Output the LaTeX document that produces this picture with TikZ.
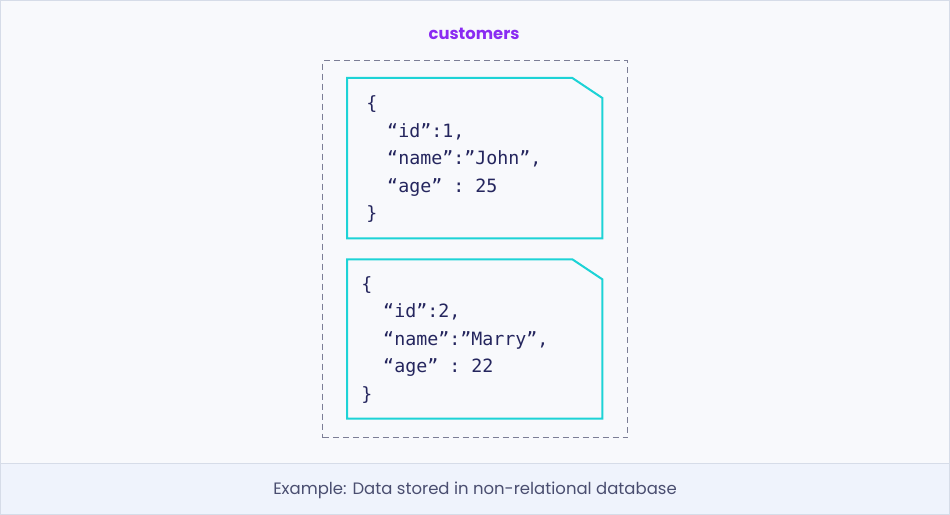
\documentclass[tikz,border=0pt]{standalone}
\usepackage{fontspec}
\setmainfont{Poppins}
\setmonofont{DejaVu Sans Mono}
\usetikzlibrary{positioning}

\definecolor{pagebg}{HTML}{F8F9FC}
\definecolor{bandbg}{HTML}{EFF3FC}
\definecolor{frameline}{HTML}{D6DCE8}
\definecolor{titlepurple}{HTML}{8A2BF2}
\definecolor{docline}{HTML}{1DD3D6}
\definecolor{dashgray}{HTML}{7C7E96}
\definecolor{ink}{HTML}{25265E}
\definecolor{captionink}{HTML}{4A4E70}

\begin{document}
\begin{tikzpicture}[x=1pt, y=-1pt,
  doc/.style={minimum width=255pt, minimum height=160pt, inner sep=0pt},
  json/.style={font=\ttfamily\fontsize{18.3}{27.5}\selectfont, text=ink, align=left, inner sep=0pt, anchor=base west},
  docedge/.style={draw=docline, line width=2pt, line join=miter}]
% page and caption band
\fill[pagebg] (0,0) rectangle (950,515);
\fill[bandbg] (0,463) rectangle (950,515);
\draw[frameline] (0,463) -- (950,463);
\draw[frameline] (0.5,0.5) rectangle (949.5,514.5);
\useasboundingbox (0,0) rectangle (950,515);

\node[text=titlepurple, font=\bfseries\fontsize{16.4}{18}\selectfont] (title) at (474,34) {customers};
\node[draw=dashgray, line width=1.4pt, dash pattern=on 6pt off 4pt, minimum width=305pt, minimum height=377pt, inner sep=0pt, anchor=north west] (coll) at (322,60) {};

% two documents
\node[doc, anchor=north west] (doc1) at (347,78) {};
\node[doc, below=21pt of doc1, minimum height=159pt] (doc2) {};
\foreach \d in {doc1, doc2}
  \draw[docedge] (\d.south west) -- (\d.north west) -- ([xshift=-30pt]\d.north east)
    -- ([yshift=-20pt]\d.north east) -- (\d.south east) -- cycle;

% base anchor sits on the last line
\node[json] (json1) at ([xshift=19pt, yshift=-142pt]doc1.north west)
  {\{\\\hspace*{21pt}“id”:1,\\\hspace*{21pt}“name”:”John”,\\\hspace*{21pt}“age” : 25\\\}};
\node[json] (json2) at ([xshift=14pt, yshift=-141pt]doc2.north west)
  {\{\\\hspace*{22pt}“id”:2,\\\hspace*{22pt}“name”:”Marry”,\\\hspace*{22pt}“age” : 22\\\}};

\node[text=captionink, font=\fontsize{16.5}{19}\selectfont] (caption) at (475,491) {Example: Data stored in non-relational database};
\end{tikzpicture}
\end{document}
